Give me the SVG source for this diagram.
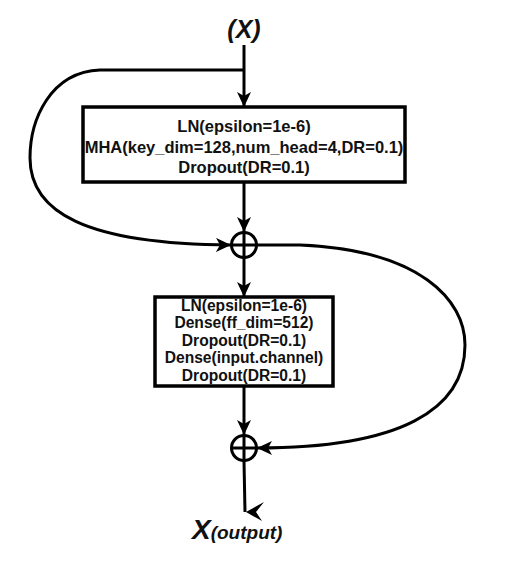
<svg xmlns="http://www.w3.org/2000/svg" width="518" height="566" viewBox="0 0 518 566">
<defs>
<marker id="ah" markerUnits="userSpaceOnUse" markerWidth="16" markerHeight="14" refX="15" refY="7" orient="auto">
<path d="M0,0 L15,7 L0,14 L4,7 z" fill="#000"/>
</marker>
<style>
.ln{fill:none;stroke:#000;stroke-width:3}
.box{fill:#fff;stroke:#000;stroke-width:3.5}
.t{font-family:"Liberation Sans",Arial,sans-serif;font-weight:bold;fill:#111;text-anchor:middle}
.sum{fill:#fff;stroke:#000;stroke-width:3}
</style>
</defs>
<rect width="518" height="566" fill="#fff"/>
<g id="connectors">
<path class="ln" d="M244,45 L244,107" marker-end="url(#ah)"/>
<path class="ln" d="M244,70 L100,70 C50,72 30,120 30,158 C30,212 85,244 231,245" marker-end="url(#ah)"/>
<path class="ln" d="M244,182 L244,232" marker-end="url(#ah)"/>
<path class="ln" d="M244,258 L244,297" marker-end="url(#ah)"/>
<path class="ln" d="M257,245 L300,245 C420,250 465,300 465,345 C465,410 400,448 257,448" marker-end="url(#ah)"/>
<path class="ln" d="M244,386 L244,435" marker-end="url(#ah)"/>
<path class="ln" d="M244,461 L245,512"/>
<path d="M246,512 L264,502 L256,512 L262,521 z" fill="#000"/>
</g>
<g id="input">
<text class="t" x="244" y="38" font-size="25" font-style="italic">(X)</text>
</g>
<g id="block1">
<rect class="box" x="83" y="107" width="322" height="75"/>
<text class="t" x="244" y="132" font-size="16.5">LN(epsilon=1e-6)</text>
<text class="t" x="244" y="153" font-size="16.5">MHA(key_dim=128,num_head=4,DR=0.1)</text>
<text class="t" x="244" y="173" font-size="16.5">Dropout(DR=0.1)</text>
</g>
<g id="add1">
<circle class="sum" cx="244" cy="245" r="12.5"/>
<path class="ln" d="M231.5,245 L256.5,245 M244,232.5 L244,257.5"/>
</g>
<g id="block2">
<rect class="box" x="155" y="297" width="178" height="89"/>
<text class="t" x="244" y="311" font-size="15.6">LN(epsilon=1e-6)</text>
<text class="t" x="244" y="328" font-size="15.6">Dense(ff_dim=512)</text>
<text class="t" x="244" y="346" font-size="15.6">Dropout(DR=0.1)</text>
<text class="t" x="244" y="363" font-size="15.6">Dense(input.channel)</text>
<text class="t" x="244" y="381" font-size="15.6">Dropout(DR=0.1)</text>
</g>
<g id="add2">
<circle class="sum" cx="244" cy="448" r="12.5"/>
<path class="ln" d="M231.5,448 L256.5,448 M244,435.5 L244,460.5"/>
</g>
<g id="output">
<text x="192" y="539" font-family="Liberation Sans,Arial,sans-serif" font-weight="bold" font-style="italic" fill="#111"><tspan font-size="28">X</tspan><tspan font-size="19">(output)</tspan></text>
</g>
</svg>
